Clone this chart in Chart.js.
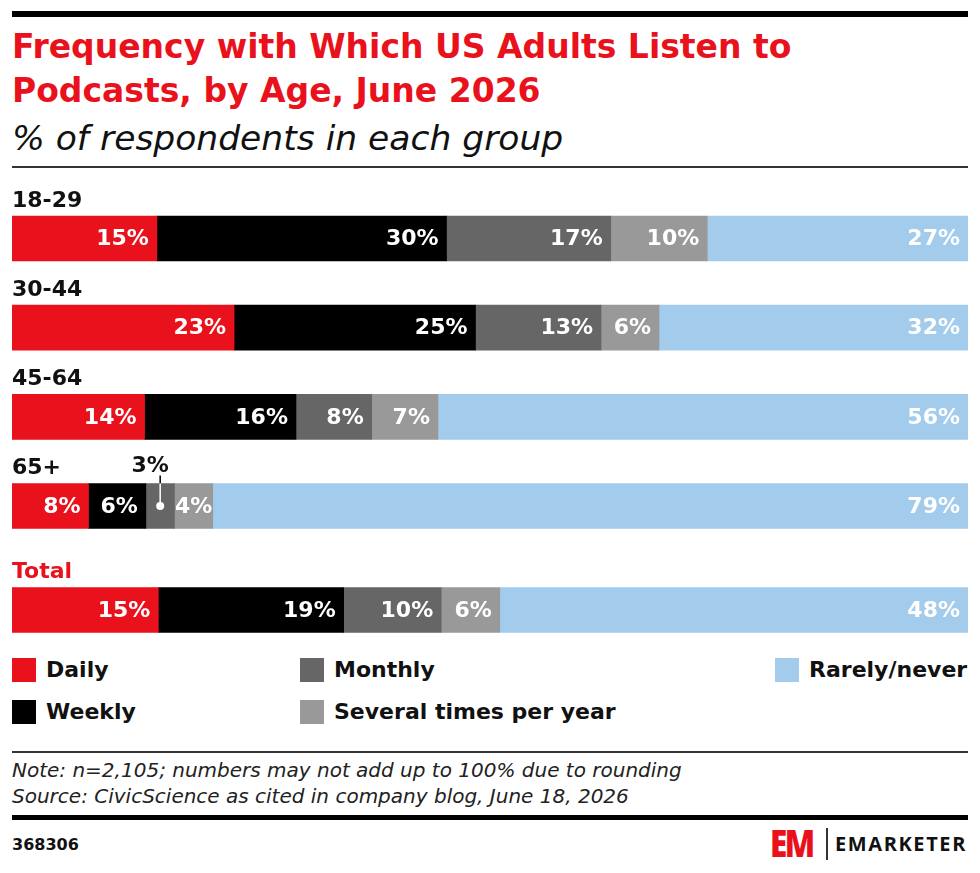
<!DOCTYPE html>
<html lang="en">
<head>
    <meta charset="UTF-8">
    <title>Podcast Listening Frequency by Age</title>
    <script src="https://cdn.jsdelivr.net/npm/chart.js"></script>
    <style>
        body {
            margin: 0;
            width: 980px;
            height: 873px;
            background: #fff;
            font-family: "DejaVu Sans", Arial, sans-serif;
            position: relative;
            overflow: hidden;
        }
        .abs { position: absolute; }
        .rule-top { left: 12px; top: 11px; width: 956px; height: 6px; background: #000; }
        h1 {
            position: absolute; left: 12px; top: 25px; margin: 0;
            font-size: 33px; line-height: 44px; font-weight: 700;
            color: #e8111c;
        }
        .subtitle {
            left: 12px; top: 118px; font-size: 34.5px; line-height: 40px;
            font-style: italic; font-weight: 400; color: #111;
        }
        .rule-thin { left: 12px; width: 956px; height: 2px; background: #333; }
        #chartBox { left: 0; top: 170px; width: 980px; height: 480px; }
        .legend-item { position: absolute; font-size: 22px; font-weight: 700; color: #111; line-height: 24px; white-space: nowrap; }
        .legend-item span {
            display: inline-block; width: 24px; height: 24px; vertical-align: top; margin-right: 10px;
        }
        .notes {
            left: 12px; top: 757px; font-size: 20px; line-height: 26px;
            font-style: italic; color: #222;
        }
        .rule-bottom { left: 12px; top: 815px; width: 956px; height: 5px; background: #000; }
        .chart-id { left: 12px; top: 835px; font-size: 16px; line-height: 20px; font-weight: 700; color: #111; }
        .logo-em {
            left: 770px; top: 824px; font-family: "Open Sans", sans-serif; font-size: 37px; font-weight: 800;
            color: #e8111c; line-height: 38px; letter-spacing: -3px;
            transform: scaleX(0.85); transform-origin: left center;
        }
        .logo-div { left: 826px; top: 828px; width: 1.5px; height: 32px; background: #333; }
        .logo-text {
            left: 835px; top: 830px; font-family: "Open Sans", sans-serif; font-size: 20px;
            font-weight: 700; color: #111; line-height: 28px; letter-spacing: 1.6px;
        }
    </style>
</head>
<body>
    <div class="abs rule-top"></div>
    <h1>Frequency with Which US Adults Listen to<br>Podcasts, by Age, June 2026</h1>
    <div class="abs subtitle">% of respondents in each group</div>
    <div class="abs rule-thin" style="top:166px"></div>

    <div class="abs" id="chartBox"><canvas id="freqChart"></canvas></div>

    <div id="legend"></div>

    <div class="abs rule-thin" style="top:751px;height:1.5px"></div>
    <div class="abs notes">Note: n=2,105; numbers may not add up to 100% due to rounding<br>Source: CivicScience as cited in company blog, June 18, 2026</div>
    <div class="abs rule-bottom"></div>
    <div class="abs chart-id">368306</div>
    <div class="abs logo-em">EM</div>
    <div class="abs logo-div"></div>
    <div class="abs logo-text">EMARKETER</div>

    <script>
        // data
        const groups = ["18-29", "30-44", "45-64", "65+", "Total"];
        const seriesNames = ["Daily", "Weekly", "Monthly", "Several times per year", "Rarely/never"];
        const daily = [15, 23, 14, 8, 15];
        const weekly = [30, 25, 16, 6, 19];
        const monthly = [17, 13, 8, 3, 10];
        const severalPerYear = [10, 6, 7, 4, 6];
        const rarelyNever = [27, 32, 56, 79, 48];

        const colors = ["#e8111c", "#000000", "#666666", "#999999", "#a2cbec"];
        const allSeries = [daily, weekly, monthly, severalPerYear, rarelyNever];

        // each bar fills the full width, so scale by its row total
        const rowTotals = groups.map((g, i) => allSeries.reduce((s, arr) => s + arr[i], 0));
        const TOTAL_GAP = 0.166;
        const slot = i => i + (groups[i] === "Total" ? TOTAL_GAP : 0);

        const datasets = allSeries.map((arr, k) => ({
            label: seriesNames[k],
            data: arr.map((v, i) => ({ x: v / rowTotals[i] * 100, y: slot(i), raw: v })),
            backgroundColor: colors[k],
            borderWidth: 0,
            barThickness: 45
        }));

        const labelFont = "700 22px 'DejaVu Sans', Arial, sans-serif";

        const barLabels = {
            id: "barLabels",
            afterDatasetsDraw(chart) {
                const ctx = chart.ctx;
                ctx.save();
                ctx.font = labelFont;
                chart.data.datasets.forEach((ds, k) => {
                    chart.getDatasetMeta(k).data.forEach((bar, i) => {
                        const text = ds.data[i].raw + "%";
                        const w = ctx.measureText(text).width;
                        const segW = bar.x - bar.base;
                        const top = bar.y - bar.height / 2;
                        if (segW >= w) {
                            const pad = Math.min(8, (segW - w) / 2);
                            ctx.fillStyle = "#fff";
                            ctx.textAlign = "right";
                            ctx.textBaseline = "middle";
                            ctx.fillText(text, bar.x - pad, bar.y + 1);
                        } else {
                            // too narrow: callout above the bar
                            const cx = (bar.x + bar.base) / 2;
                            ctx.lineWidth = 1.5;
                            ctx.strokeStyle = "#000";
                            ctx.beginPath();
                            ctx.moveTo(cx, top - 8);
                            ctx.lineTo(cx, top);
                            ctx.stroke();
                            ctx.strokeStyle = "#fff";
                            ctx.beginPath();
                            ctx.moveTo(cx, top);
                            ctx.lineTo(cx, bar.y);
                            ctx.stroke();
                            ctx.fillStyle = "#fff";
                            ctx.beginPath();
                            ctx.arc(cx, bar.y, 4, 0, Math.PI * 2);
                            ctx.fill();
                            ctx.fillStyle = "#111";
                            ctx.textAlign = "center";
                            ctx.textBaseline = "alphabetic";
                            ctx.fillText(text, cx - 10, top - 11);
                        }
                    });
                });
                // group names above each bar
                ctx.textAlign = "left";
                ctx.textBaseline = "alphabetic";
                chart.getDatasetMeta(0).data.forEach((bar, i) => {
                    ctx.fillStyle = groups[i] === "Total" ? "#e8111c" : "#111";
                    ctx.fillText(groups[i], chart.chartArea.left, bar.y - bar.height / 2 - 9);
                });
                ctx.restore();
            }
        };

        new Chart(document.getElementById("freqChart"), {
            type: "bar",
            data: { datasets: datasets },
            options: {
                indexAxis: "y",
                responsive: true,
                maintainAspectRatio: false,
                animation: false,
                layout: { padding: { left: 12, right: 12, top: 0, bottom: 0 } },
                scales: {
                    x: { stacked: true, min: 0, max: 100, display: false },
                    y: { type: "linear", stacked: true, reverse: true, offset: false, min: -0.768, max: 4.615, display: false }
                },
                plugins: { legend: { display: false }, tooltip: { enabled: false } }
            },
            plugins: [barLabels]
        });

        // legend laid out like the reference: three columns, two rows
        const legendPos = [[12, 658], [12, 700], [300, 658], [300, 700], [775, 658]];
        const legendBox = document.getElementById("legend");
        seriesNames.forEach((name, k) => {
            const item = document.createElement("div");
            item.className = "legend-item";
            item.style.left = legendPos[k][0] + "px";
            item.style.top = legendPos[k][1] + "px";
            item.innerHTML = `<span style="background:${colors[k]}"></span>${name}`;
            legendBox.appendChild(item);
        });
    </script>
</body>
</html>
